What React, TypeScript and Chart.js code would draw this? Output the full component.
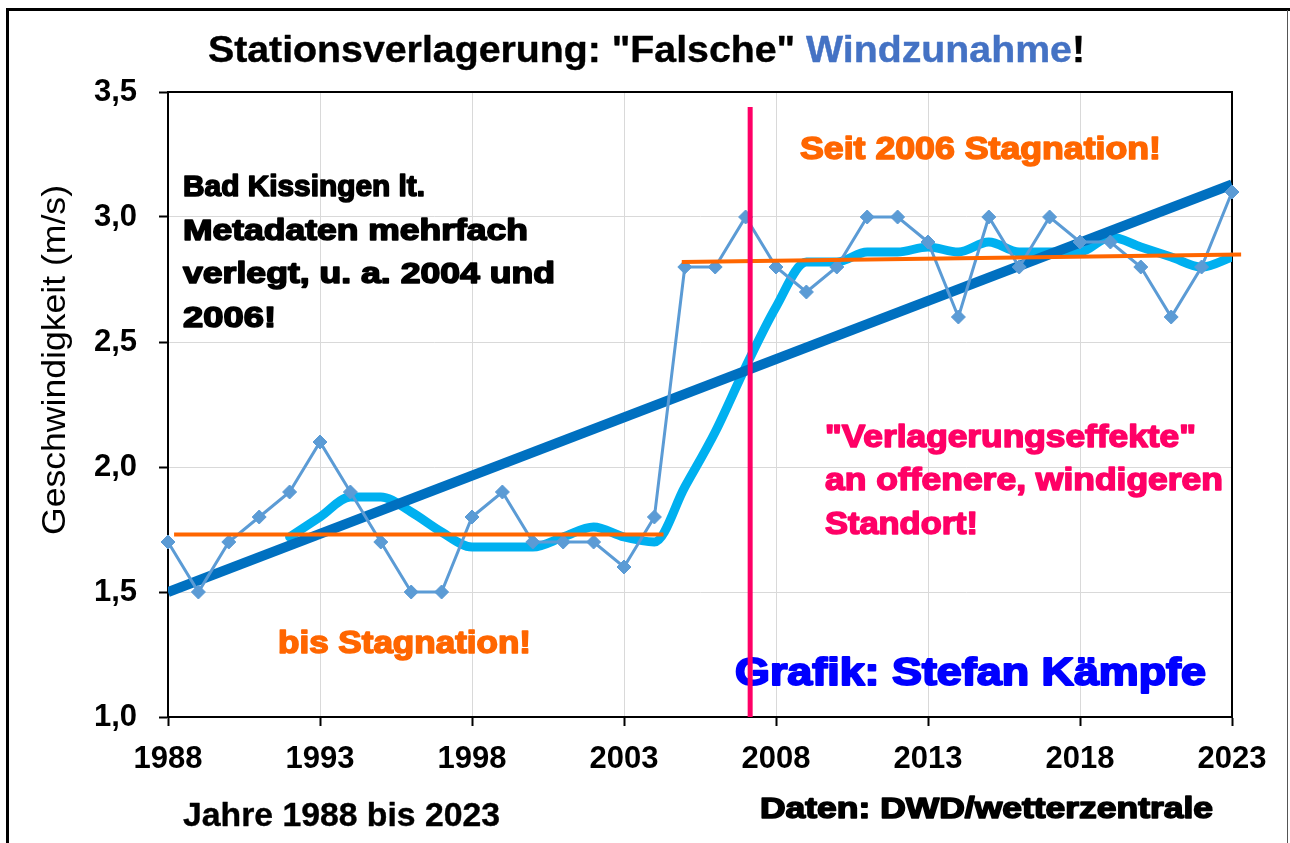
import React, { useEffect, useRef } from "react";
import { Chart, registerables } from "chart.js";

Chart.register(...registerables);

// ---- Data ----
const years = [1988, 1989, 1990, 1991, 1992, 1993, 1994, 1995, 1996, 1997, 1998, 1999, 2000, 2001, 2002, 2003, 2004, 2005, 2006, 2007, 2008, 2009, 2010, 2011, 2012, 2013, 2014, 2015, 2016, 2017, 2018, 2019, 2020, 2021, 2022, 2023];
const windSpeed = [1.7, 1.5, 1.7, 1.8, 1.9, 2.1, 1.9, 1.7, 1.5, 1.5, 1.8, 1.9, 1.7, 1.7, 1.7, 1.6, 1.8, 2.8, 2.8, 3.0, 2.8, 2.7, 2.8, 3.0, 3.0, 2.9, 2.6, 3.0, 2.8, 3.0, 2.9, 2.9, 2.8, 2.6, 2.8, 3.1];

const avgYears = [1992, 1993, 1994, 1995, 1996, 1997, 1998, 1999, 2000, 2001, 2002, 2003, 2004, 2005, 2006, 2007, 2008, 2009, 2010, 2011, 2012, 2013, 2014, 2015, 2016, 2017, 2018, 2019, 2020, 2021, 2022, 2023];
const avgSpeed = [1.72, 1.80, 1.88, 1.88, 1.82, 1.74, 1.68, 1.68, 1.68, 1.72, 1.76, 1.72, 1.70, 1.92, 2.14, 2.40, 2.64, 2.82, 2.82, 2.86, 2.86, 2.88, 2.86, 2.90, 2.86, 2.86, 2.86, 2.92, 2.88, 2.84, 2.80, 2.84];

const trendYears = [1988, 2023];
const trendSpeed = [1.5, 3.13];

const stagEarlyYears = [1988.2, 2004.3];
const stagEarlySpeed = [1.73, 1.73];
const stagLateYears = [2004.9, 2023.3];
const stagLateSpeed = [2.82, 2.85];

const relocationYear = 2007.15;
const relocationTop = 3.44;

const xTickValues = [1988, 1993, 1998, 2003, 2008, 2013, 2018, 2023];
const yMin = 1.0;
const yMax = 3.5;
const yStep = 0.5;

// ---- Texts ----
const titleParts = [
  { text: 'Stationsverlagerung: "Falsche" ', color: "#000000" },
  { text: "Windzunahme", color: "#4472C4" },
  { text: "!", color: "#000000" },
];
const stationLines = ["Bad Kissingen lt.", "Metadaten mehrfach", "verlegt, u. a. 2004 und", "2006!"];
const effectLines = ['"Verlagerungseffekte"', "an offenere, windigeren", "Standort!"];
const lateText = "Seit 2006 Stagnation!";
const earlyText = "bis Stagnation!";
const creditText = "Grafik: Stefan Kämpfe";
const sourceText = "Daten: DWD/wetterzentrale";
const yearsText = "Jahre 1988 bis 2023";
const yTitle = "Geschwindigkeit (m/s)";

const FONT = '"Liberation Sans", Arial, Helvetica, sans-serif';

type Part = { text: string; color: string };

function drawText(
  ctx: CanvasRenderingContext2D,
  parts: Part[],
  x: number,
  y: number,
  size: number,
  weight: string,
  width: number | null,
  heavy: number
) {
  ctx.save();
  ctx.font = `${weight} ${size}px ${FONT}`;
  ctx.textBaseline = "alphabetic";
  ctx.textAlign = "left";
  const full = parts.map((p) => p.text).join("");
  const natural = ctx.measureText(full).width;
  const sx = width ? width / natural : 1;
  ctx.translate(x, y);
  ctx.scale(sx, 1);
  let cx = 0;
  for (const p of parts) {
    ctx.fillStyle = p.color;
    ctx.fillText(p.text, cx, 0);
    if (heavy > 0) {
      ctx.strokeStyle = p.color;
      ctx.lineWidth = heavy;
      ctx.lineJoin = "round";
      ctx.strokeText(p.text, cx, 0);
    }
    cx += ctx.measureText(p.text).width;
  }
  ctx.restore();
}

const decorPlugin = {
  id: "decor",
  beforeDraw(chart: any) {
    const ctx = chart.ctx as CanvasRenderingContext2D;
    ctx.save();
    ctx.fillStyle = "#ffffff";
    ctx.fillRect(0, 0, chart.width, chart.height);
    // outer frame
    ctx.fillStyle = "#000000";
    ctx.fillRect(6, 8, chart.width - 6, 3);
    ctx.fillRect(6, 8, 3, chart.height - 8);
    ctx.fillStyle = "#555555";
    ctx.fillRect(1287, 10, 1, chart.height - 10);
    ctx.restore();
  },
  beforeDatasetsDraw(chart: any) {
    const ctx = chart.ctx as CanvasRenderingContext2D;
    const a = chart.chartArea;
    ctx.save();
    ctx.strokeStyle = "#000000";
    ctx.lineWidth = 2;
    ctx.beginPath();
    ctx.moveTo(a.left, a.top);
    ctx.lineTo(a.right, a.top);
    ctx.lineTo(a.right, a.bottom);
    ctx.stroke();
    ctx.restore();
  },
  afterDraw(chart: any) {
    const ctx = chart.ctx as CanvasRenderingContext2D;
    const xs = chart.scales.x;
    const ys = chart.scales.y;

    // title
    drawText(ctx, titleParts, 208, 62, 37, "bold", 877, 0.4);

    // y axis title
    ctx.save();
    ctx.translate(65, 360);
    ctx.rotate(-Math.PI / 2);
    ctx.font = `normal 33px ${FONT}`;
    const nat = ctx.measureText(yTitle).width;
    ctx.scale(350 / nat, 1);
    ctx.fillStyle = "#000000";
    ctx.textAlign = "center";
    ctx.textBaseline = "alphabetic";
    ctx.fillText(yTitle, 0, 0);
    ctx.restore();

    // station annotation (black)
    const stWidths = [242, 345, 372, 93];
    const stBase = [196, 240, 283, 327];
    stationLines.forEach((t, i) =>
      drawText(ctx, [{ text: t, color: "#000000" }], 183, stBase[i], 30, "bold", stWidths[i], 1.6)
    );

    // orange stagnation texts
    drawText(ctx, [{ text: lateText, color: "#FF6600" }], 800, 159, 32, "bold", 361, 1.6);
    drawText(ctx, [{ text: earlyText, color: "#FF6600" }], 278, 653, 32, "bold", 253, 1.6);

    // pink effect text
    const efWidths = [371, 398, 153];
    const efBase = [447, 490, 534];
    effectLines.forEach((t, i) =>
      drawText(ctx, [{ text: t, color: "#FF0066" }], 825, efBase[i], 32, "bold", efWidths[i], 1.6)
    );

    // credit
    drawText(ctx, [{ text: creditText, color: "#0000FF" }], 735, 685, 39, "bold", 471, 2);
    // source
    drawText(ctx, [{ text: sourceText, color: "#000000" }], 760, 818, 30, "bold", 453, 1.6);
    // years
    drawText(ctx, [{ text: yearsText, color: "#000000" }], 183, 826, 34, "bold", 317, 0.4);

    // relocation line
    const px = xs.getPixelForValue(relocationYear);
    ctx.save();
    ctx.strokeStyle = "#FF0066";
    ctx.lineWidth = 5;
    ctx.beginPath();
    ctx.moveTo(px, ys.getPixelForValue(relocationTop));
    ctx.lineTo(px, chart.chartArea.bottom);
    ctx.stroke();
    ctx.restore();
  },
};

const toPoints = (xs: number[], ys: number[]) => xs.map((x, i) => ({ x, y: ys[i] }));

export default function App() {
  const canvasRef = useRef<HTMLCanvasElement | null>(null);

  useEffect(() => {
    document.body.style.margin = "0";
    const canvas = canvasRef.current;
    if (!canvas) return;
    const chart = new Chart(canvas, {
      type: "line",
      data: {
        datasets: [
          {
            label: "Stagnation bis 2004",
            data: toPoints(stagEarlyYears, stagEarlySpeed),
            borderColor: "#FF6600",
            borderWidth: 4,
            pointRadius: 0,
            order: 0,
          },
          {
            label: "Stagnation seit 2006",
            data: toPoints(stagLateYears, stagLateSpeed),
            borderColor: "#FF6600",
            borderWidth: 4,
            pointRadius: 0,
            clip: false,
            order: 0,
          },
          {
            label: "Windgeschwindigkeit",
            data: toPoints(years, windSpeed),
            borderColor: "#5B9BD5",
            backgroundColor: "#5B9BD5",
            borderWidth: 3,
            pointStyle: "rectRot",
            pointRadius: 7,
            pointBorderWidth: 1,
            pointBorderColor: "#5B9BD5",
            pointBackgroundColor: "#5B9BD5",
            tension: 0,
            clip: false,
            order: 1,
          },
          {
            label: "Trend",
            data: toPoints(trendYears, trendSpeed),
            borderColor: "#0070C0",
            borderWidth: 10,
            pointRadius: 0,
            order: 2,
          },
          {
            label: "Gleitendes Mittel",
            data: toPoints(avgYears, avgSpeed),
            borderColor: "#00B0F0",
            borderWidth: 9,
            pointRadius: 0,
            cubicInterpolationMode: "monotone",
            borderJoinStyle: "round",
            borderCapStyle: "round",
            order: 3,
          },
        ],
      },
      options: {
        animation: false,
        responsive: false,
        maintainAspectRatio: false,
        layout: { padding: { left: 0, top: 92, right: 58, bottom: 0 } },
        plugins: {
          legend: { display: false },
          tooltip: { enabled: false },
          title: { display: false },
        },
        scales: {
          x: {
            type: "linear",
            min: 1988,
            max: 2023,
            afterBuildTicks: (scale: any) => {
              scale.ticks = xTickValues.map((value) => ({ value }));
            },
            afterFit: (scale: any) => {
              scale.height = 126;
            },
            ticks: {
              autoSkip: false,
              maxRotation: 0,
              padding: 15,
              color: "#000000",
              font: { family: FONT, size: 31, weight: "bold" },
              callback: (v: any) => String(v),
            },
            grid: {
              color: "#D9D9D9",
              lineWidth: 1,
              tickColor: "#000000",
              tickLength: 9,
              tickWidth: 2,
            },
            border: { color: "#000000", width: 2 },
          },
          y: {
            type: "linear",
            min: yMin,
            max: yMax,
            afterFit: (scale: any) => {
              scale.width = 168;
            },
            ticks: {
              stepSize: yStep,
              padding: 22,
              color: "#000000",
              font: { family: FONT, size: 31, weight: "bold" },
              callback: (v: any) => Number(v).toFixed(1).replace(".", ","),
            },
            grid: {
              color: "#D9D9D9",
              lineWidth: 1,
              tickColor: "#000000",
              tickLength: 9,
              tickWidth: 2,
            },
            border: { color: "#000000", width: 2 },
          },
        },
      },
      plugins: [decorPlugin],
    } as any);
    return () => chart.destroy();
  }, []);

  return (
    <div style={{ width: 1290, height: 843 }}>
      <canvas ref={canvasRef} width={1290} height={843} style={{ display: "block" }} />
    </div>
  );
}
